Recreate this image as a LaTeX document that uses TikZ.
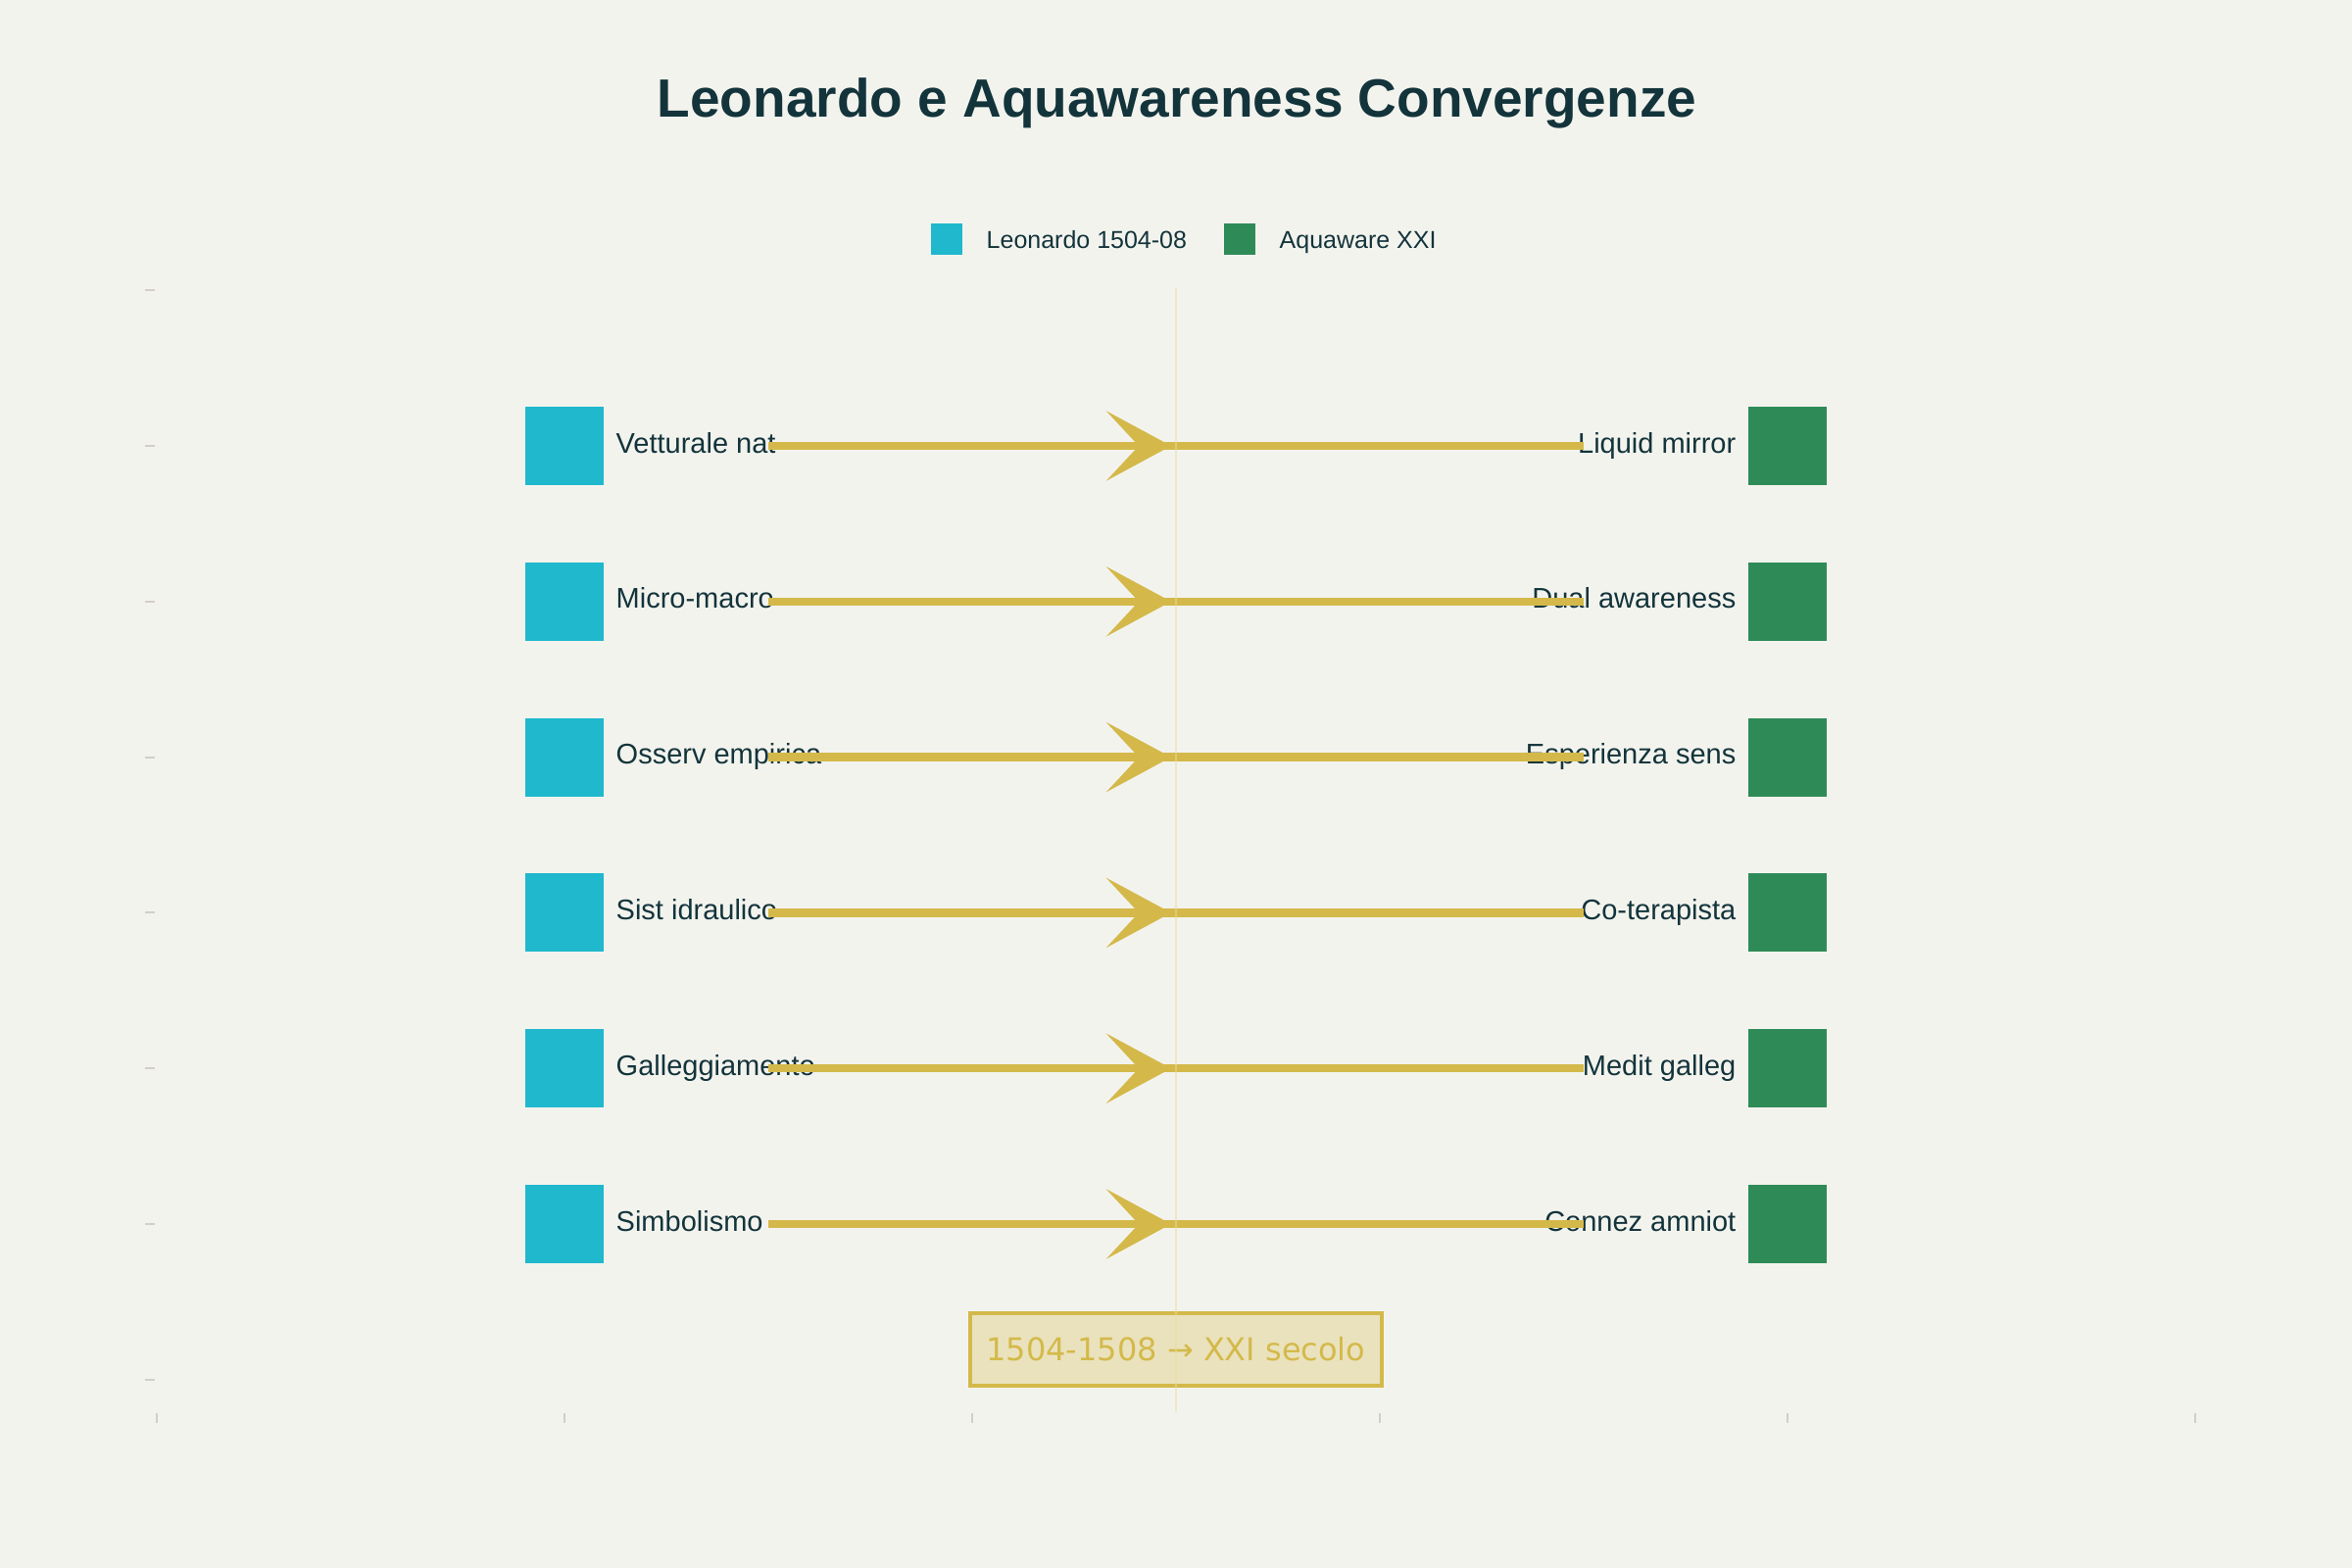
\documentclass[tikz,border=0pt]{standalone}
\usepackage{fontspec}
\setmainfont{Liberation Sans}
\newfontfamily\erafont{DejaVu Sans}
\usepackage{tikz}
\usetikzlibrary{arrows.meta, positioning}
\usepackage{xcolor}
\definecolor{bgcol}{HTML}{F3F3EE}
\definecolor{inkcol}{HTML}{13343B}
\definecolor{leocyan}{HTML}{1FB8CD}
\definecolor{aquagreen}{HTML}{2E8B57}
\definecolor{linkgold}{HTML}{D4B94A}
\definecolor{erafill}{HTML}{EAE2BD}
\definecolor{midcol}{HTML}{E8DCA0}
\definecolor{tickgrey}{HTML}{D3CECA}
\tikzset{
    leobox/.style={rectangle, fill=leocyan, minimum size=80pt, inner sep=0pt, outer sep=0pt},
    aquabox/.style={rectangle, fill=aquagreen, minimum size=80pt, inner sep=0pt, outer sep=0pt},
    leolabel/.style={text=inkcol, inner sep=0pt, font=\fontsize{29}{34}\selectfont},
    aqualabel/.style={text=inkcol, inner sep=0pt, font=\fontsize{29}{34}\selectfont},
    link/.style={draw=linkgold, line width=8.3pt},
    linkhead/.style={link, -{Stealth[length=66pt, width=71pt, inset=33pt]}},
    legendbox/.style={rectangle, minimum size=32pt, inner sep=0pt, outer sep=0pt},
    legendtext/.style={text=inkcol, inner sep=0pt, font=\fontsize{25}{30}\selectfont},
    tickmark/.style={draw=tickgrey, line width=2pt},
    erabox/.style={rectangle, draw=linkgold, line width=4pt, fill=erafill, text=linkgold, minimum width=420pt, minimum height=74pt, font=\erafont\fontsize{32}{38}\selectfont}
}
\begin{document}
\begin{tikzpicture}[x=1pt, y=-1pt, node distance=78.8pt and 12.5pt]
    % Canvas
    \fill [bgcol] (0,0) rectangle (2400,1600);
    \useasboundingbox (0,0) rectangle (2400,1600);
    % Title
    \node (title) [text=inkcol, anchor=base, font=\bfseries\fontsize{55}{64}\selectfont] at (1201,119.3) {Leonardo e Aquawareness Convergenze};
    % Legend
    \node (lg_leo) [legendbox, fill=leocyan] at (966,244) {};
    \node (lg_leo_text) [legendtext, right=24.5pt of lg_leo, anchor=base west, yshift=-9.3pt] {Leonardo 1504-08};
    \node (lg_aqua) [legendbox, fill=aquagreen] at (1265,244) {};
    \node (lg_aqua_text) [legendtext, right=24.5pt of lg_aqua, anchor=base west, yshift=-9.3pt] {Aquaware XXI};
    % Axis ticks
    \draw [tickmark] (148,296.2) -- (158,296.2);
    \draw [tickmark] (148,455) -- (158,455);
    \draw [tickmark] (148,613.8) -- (158,613.8);
    \draw [tickmark] (148,772.6) -- (158,772.6);
    \draw [tickmark] (148,931.4) -- (158,931.4);
    \draw [tickmark] (148,1090.2) -- (158,1090.2);
    \draw [tickmark] (148,1249) -- (158,1249);
    \draw [tickmark] (148,1407.8) -- (158,1407.8);
    \draw [tickmark] (159.8,1442) -- (159.8,1452);
    \draw [tickmark] (575.8,1442) -- (575.8,1452);
    \draw [tickmark] (991.8,1442) -- (991.8,1452);
    \draw [tickmark] (1407.8,1442) -- (1407.8,1452);
    \draw [tickmark] (1823.8,1442) -- (1823.8,1452);
    \draw [tickmark] (2239.8,1442) -- (2239.8,1452);
    % Leonardo side
    \node (l1) [leobox] at (576,455) {};
    \node (l2) [leobox, below=of l1] {};
    \node (l3) [leobox, below=of l2] {};
    \node (l4) [leobox, below=of l3] {};
    \node (l5) [leobox, below=of l4] {};
    \node (l6) [leobox, below=of l5] {};
    \node (lt1) [leolabel, right=of l1, anchor=base west, yshift=-7pt] {Vetturale nat};
    \node (lt2) [leolabel, right=of l2, anchor=base west, yshift=-7pt] {Micro-macro};
    \node (lt3) [leolabel, right=of l3, anchor=base west, yshift=-7pt] {Osserv empirica};
    \node (lt4) [leolabel, right=of l4, anchor=base west, yshift=-7pt] {Sist idraulico};
    \node (lt5) [leolabel, right=of l5, anchor=base west, yshift=-7pt] {Galleggiamento};
    \node (lt6) [leolabel, right=of l6, anchor=base west, yshift=-7pt] {Simbolismo};
    % Aquawareness side
    \node (r1) [aquabox] at (1824,455) {};
    \node (r2) [aquabox, below=of r1] {};
    \node (r3) [aquabox, below=of r2] {};
    \node (r4) [aquabox, below=of r3] {};
    \node (r5) [aquabox, below=of r4] {};
    \node (r6) [aquabox, below=of r5] {};
    \node (rt1) [aqualabel, left=of r1, anchor=base east, yshift=-7pt] {Liquid mirror};
    \node (rt2) [aqualabel, left=of r2, anchor=base east, yshift=-7pt] {Dual awareness};
    \node (rt3) [aqualabel, left=of r3, anchor=base east, yshift=-7pt] {Esperienza sens};
    \node (rt4) [aqualabel, left=of r4, anchor=base east, yshift=-7pt] {Co-terapista};
    \node (rt5) [aqualabel, left=of r5, anchor=base east, yshift=-7pt] {Medit galleg};
    \node (rt6) [aqualabel, left=of r6, anchor=base east, yshift=-7pt] {Connez amniot};
    % Link ends
    \coordinate (s1) at (784,455);
    \coordinate (s2) at (784,613.8);
    \coordinate (s3) at (784,772.6);
    \coordinate (s4) at (784,931.4);
    \coordinate (s5) at (784,1090.2);
    \coordinate (s6) at (784,1249);
    \coordinate (m1) at (1195,455);
    \coordinate (m2) at (1195,613.8);
    \coordinate (m3) at (1195,772.6);
    \coordinate (m4) at (1195,931.4);
    \coordinate (m5) at (1195,1090.2);
    \coordinate (m6) at (1195,1249);
    \coordinate (e1) at (1616,455);
    \coordinate (e2) at (1616,613.8);
    \coordinate (e3) at (1616,772.6);
    \coordinate (e4) at (1616,931.4);
    \coordinate (e5) at (1616,1090.2);
    \coordinate (e6) at (1616,1249);
    % Links
    \draw [link] (s1) -- (e1);
    \draw [linkhead] (s1) -- (m1);
    \draw [link] (s2) -- (e2);
    \draw [linkhead] (s2) -- (m2);
    \draw [link] (s3) -- (e3);
    \draw [linkhead] (s3) -- (m3);
    \draw [link] (s4) -- (e4);
    \draw [linkhead] (s4) -- (m4);
    \draw [link] (s5) -- (e5);
    \draw [linkhead] (s5) -- (m5);
    \draw [link] (s6) -- (e6);
    \draw [linkhead] (s6) -- (m6);
    % Era box
    \node (era) [erabox] at (1200,1377) {1504-1508 → XXI secolo};
    % Centre line
    \coordinate (mid_top) at (1200,294);
    \coordinate (mid_bot) at (1200,1440);
    \draw [midcol, line width=2pt, opacity=0.5] (mid_top) -- (mid_bot);
\end{tikzpicture}
\end{document}
